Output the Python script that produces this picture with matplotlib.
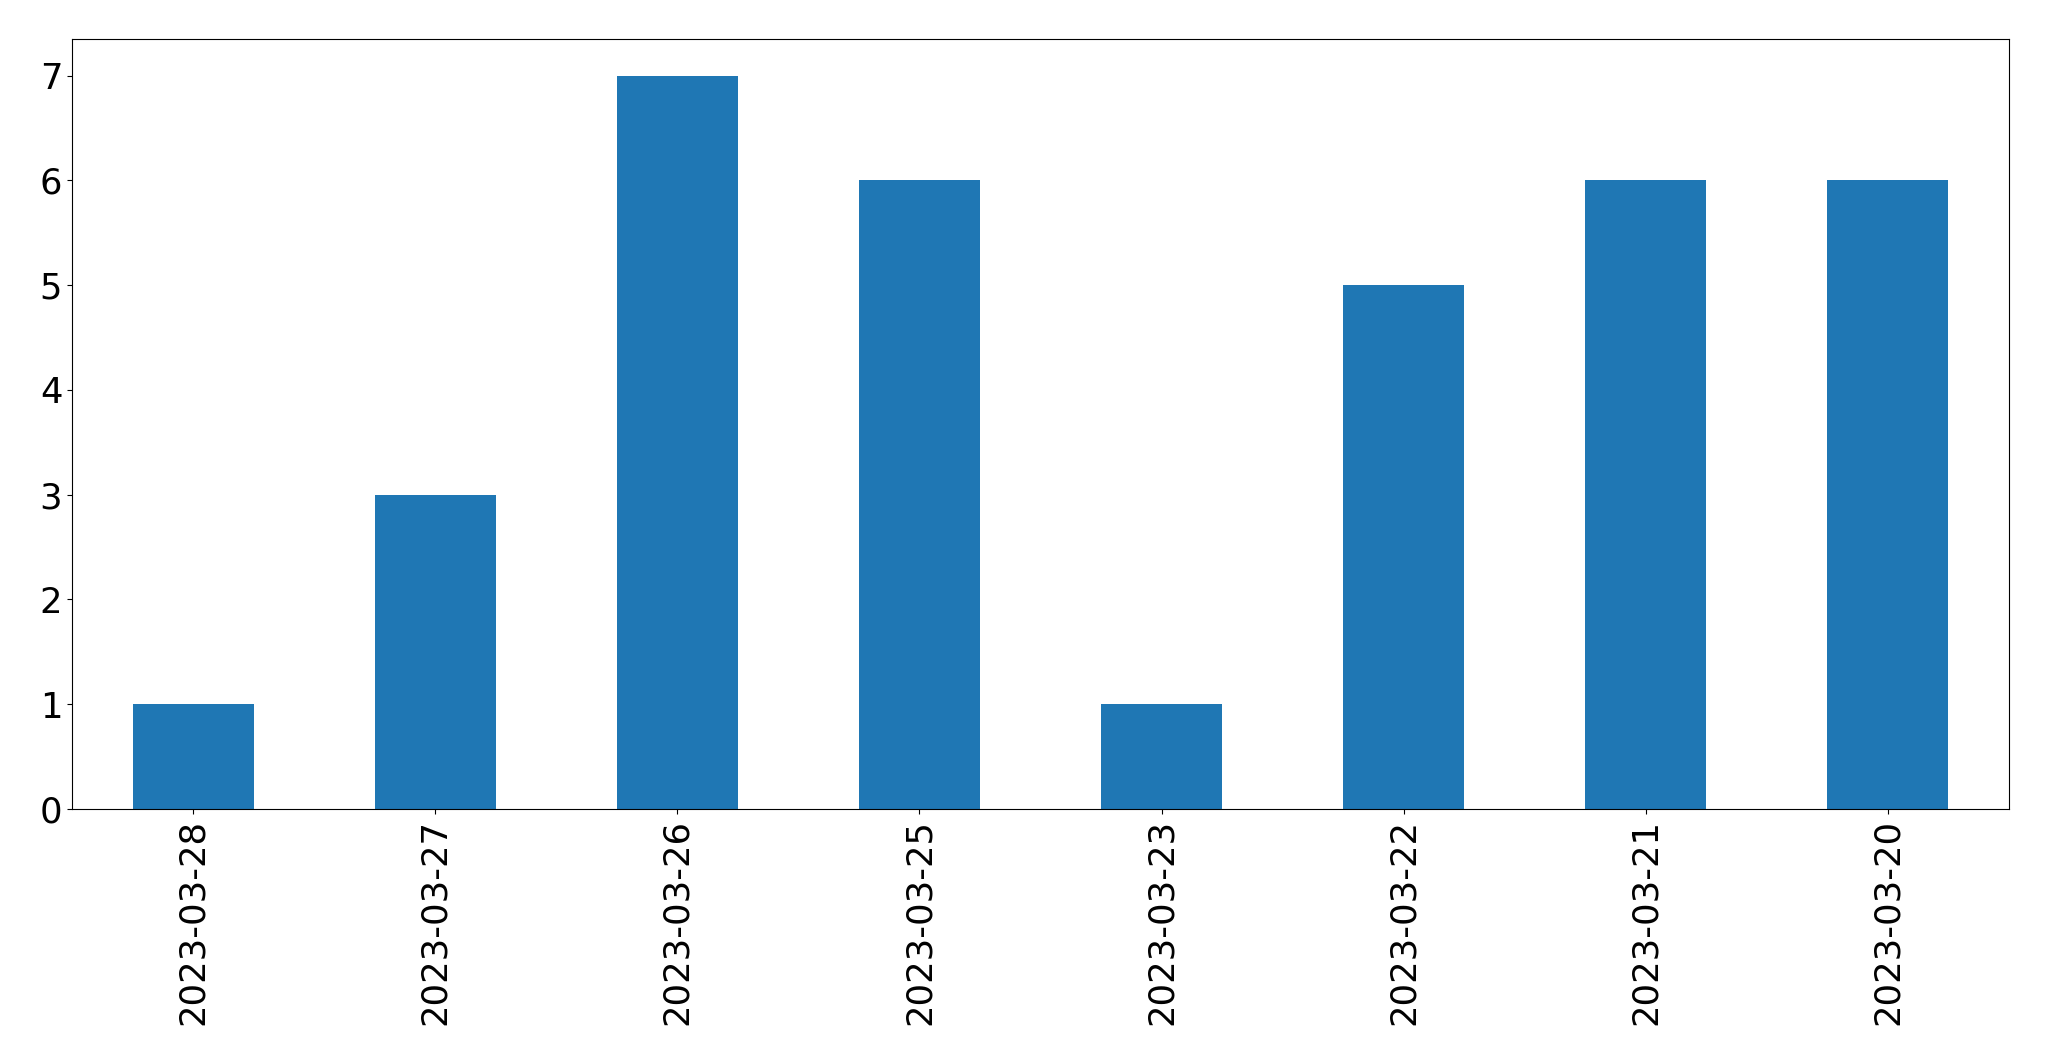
import matplotlib
matplotlib.use('Agg')
import matplotlib.pyplot as plt
import pandas as pd

# Dữ liệu
dates = ['2023-03-28', '2023-03-27', '2023-03-26', '2023-03-25',
         '2023-03-23', '2023-03-22', '2023-03-21', '2023-03-20']
counts = [1, 3, 7, 6, 1, 5, 6, 6]

series = pd.Series(counts, index=dates)

fig = plt.figure(figsize=(20.49, 10.61), dpi=100)
ax = fig.add_axes([72 / 2049, 1 - 809 / 1061, (2009 - 72) / 2049, (809 - 39) / 1061])
series.plot(kind='bar', ax=ax, color='#1f77b4', fontsize=25.5)

fig.savefig('out.png', dpi=100)
